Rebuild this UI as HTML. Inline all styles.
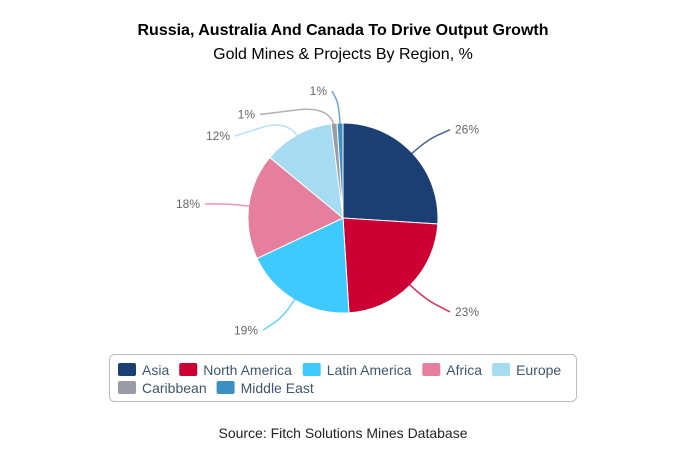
<!DOCTYPE html>
<html><head><meta charset="utf-8"><style>
body{margin:0;background:#fff;font-family:"Liberation Sans",sans-serif}
</style></head><body>
<svg width="696" height="452" xmlns="http://www.w3.org/2000/svg">
<rect width="696" height="452" fill="#fff"/>
<text x="343" y="35" text-anchor="middle" font-size="16" font-weight="bold" fill="#000">Russia, Australia And Canada To Drive Output Growth</text>
<text x="343" y="59" text-anchor="middle" font-size="16" fill="#000">Gold Mines &amp; Projects By Region, %</text>
<g id="pie"></g>
<rect x="109.5" y="354.5" width="467" height="47" rx="5" fill="#fff" stroke="#bbb"/>
<g id="legend"></g>
<text x="343" y="438" text-anchor="middle" font-size="14" fill="#222">Source: Fitch Solutions Mines Database</text>
</svg>
<script>
const categories=["Asia","North America","Latin America","Africa","Europe","Caribbean","Middle East"];
const values=[26,23,19,18,12,1,1];
const colors=["#1b3f73","#cc0033","#3fcaff","#e67e9d","#a6dbf1","#999ca6","#3b8fc2"];
const NS="http://www.w3.org/2000/svg";
const cx=343,cy=218,r=95;
const pie=document.getElementById('pie');
const total=values.reduce((a,b)=>a+b,0);
function pt(a,rr){return [cx+rr*Math.sin(a),cy-rr*Math.cos(a)];}
// label nudges (layout only)
const nudgeX=[0,0,27,-31,-1,24,96],nudgeY=[-11,14,15,0,17,9,-14];
let acc=0;
values.forEach((v,i)=>{
  const a0=acc/total*2*Math.PI;acc+=v;const a1=acc/total*2*Math.PI;
  const [x0,y0]=pt(a0,r),[x1,y1]=pt(a1,r);
  const p=document.createElementNS(NS,'path');
  p.setAttribute('d',`M${cx},${cy}L${x0},${y0}A${r},${r} 0 ${a1-a0>Math.PI?1:0} 1 ${x1},${y1}Z`);
  p.setAttribute('fill',colors[i]);p.setAttribute('stroke','#fff');p.setAttribute('stroke-width','1');
  
  
  pie.appendChild(p);
  const am=(a0+a1)/2;
  const [sx,sy]=pt(am,r-6),[ex,ey0]=pt(am,r+18);
  const right=Math.sin(am)>=0;
  const lx=(right?cx+r+12:cx-r-12)+nudgeX[i];
  const ly=ey0+nudgeY[i];
  const mx=(ex+lx)/2;
  const l=document.createElementNS(NS,'path');
  l.setAttribute('d',`M${sx},${sy} Q${ex},${ey0} ${mx},${(ey0+ly)/2} T${lx},${ly}`);
  l.setAttribute('fill','none');l.setAttribute('stroke',colors[i]);l.setAttribute('stroke-width','1.5');l.setAttribute('stroke-opacity','0.8');
  
  
  pie.appendChild(l);
  const t=document.createElementNS(NS,'text');
  t.setAttribute('x',right?lx+5:lx-5);t.setAttribute('y',ly+4);
  t.setAttribute('text-anchor',right?'start':'end');
  t.setAttribute('font-size','12');t.setAttribute('fill','#666');
  t.textContent=v+'%';
  
  
  pie.appendChild(t);
});
const lg=document.getElementById('legend');
const ctx=document.createElement('canvas').getContext('2d');ctx.font='14px "Liberation Sans"';
let lx=118,ly=363;
categories.forEach((c,i)=>{
  const w=18+6+ctx.measureText(c).width+10;
  if(lx+w>575){lx=118;ly+=18;}
  const g=document.createElementNS(NS,'g');
  
  
  const s=document.createElementNS(NS,'rect');
  s.setAttribute('x',lx);s.setAttribute('y',ly);s.setAttribute('width',18);s.setAttribute('height',13);s.setAttribute('rx',2);s.setAttribute('fill',colors[i]);
  const t=document.createElementNS(NS,'text');
  t.setAttribute('x',lx+24);t.setAttribute('y',ly+12);t.setAttribute('font-size','14');t.setAttribute('fill','#3e576f');t.textContent=c;
  g.appendChild(s);g.appendChild(t);lg.appendChild(g);
  lx+=w;
});
</script>
</body></html>
